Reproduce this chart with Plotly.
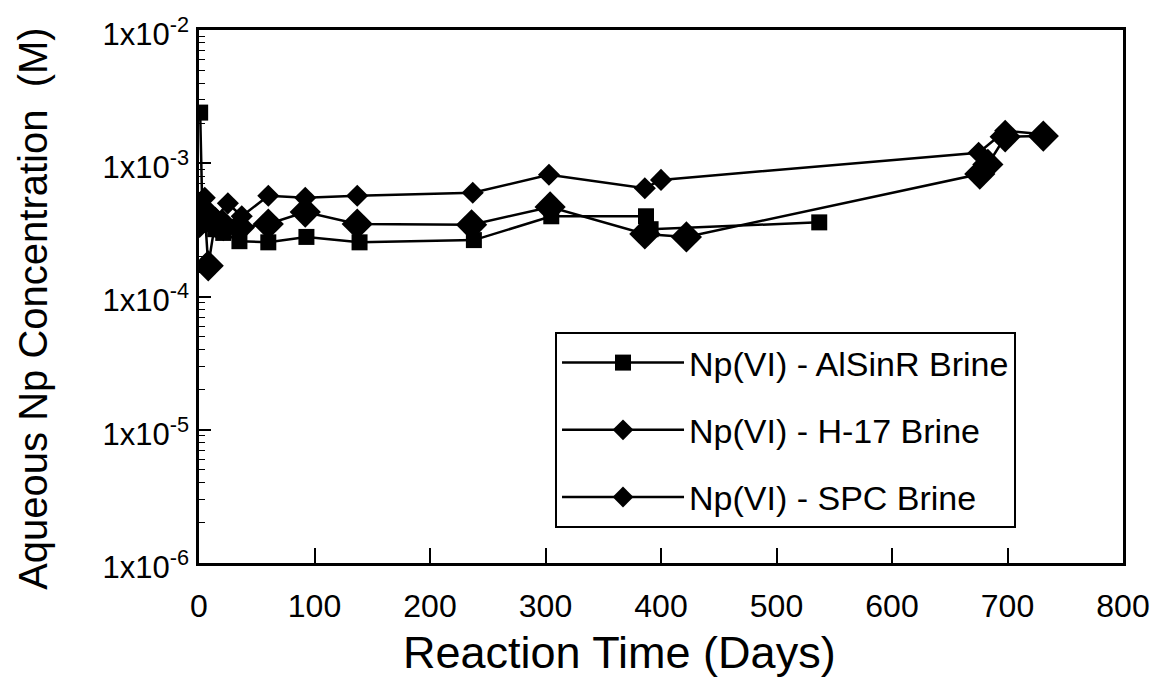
import plotly.graph_objects as go

# ---- data ----
alsinr_days = [1, 3, 7, 14, 21, 35, 60, 93, 139, 238, 305, 387, 391, 537]
alsinr_conc = [2.4e-3, 4.0e-4, 3.5e-4, 3.2e-4, 3.0e-4, 2.6e-4, 2.55e-4, 2.8e-4,
               2.55e-4, 2.65e-4, 4.0e-4, 4.0e-4, 3.2e-4, 3.6e-4]

h17_days = [2, 5, 10, 25, 37, 60, 92, 137, 237, 303, 386, 400, 675, 698, 731]
h17_conc = [4.5e-4, 5.5e-4, 3.5e-4, 5.0e-4, 4.0e-4, 5.7e-4, 5.5e-4, 5.7e-4,
            6.0e-4, 8.2e-4, 6.5e-4, 7.5e-4, 1.2e-3, 1.75e-3, 1.65e-3]

spc_days = [0.5, 5, 8, 14, 21, 35, 60, 92, 137, 236, 304, 386, 422, 676, 683, 698, 731]
spc_conc = [3.6e-4, 4.3e-4, 1.7e-4, 3.6e-4, 3.4e-4, 3.3e-4, 3.5e-4, 4.3e-4, 3.5e-4,
            3.45e-4, 4.7e-4, 2.95e-4, 2.8e-4, 8.3e-4, 9.8e-4, 1.58e-3, 1.6e-3]

series_names = ["Np(VI) - AlSinR Brine", "Np(VI) - H-17 Brine", "Np(VI) - SPC Brine"]

y_tick_vals = [1e-6, 1e-5, 1e-4, 1e-3, 1e-2]
y_tick_text = ["1x10<sup>-6</sup>", "1x10<sup>-5</sup>", "1x10<sup>-4</sup>",
               "1x10<sup>-3</sup>", "1x10<sup>-2</sup>"]
x_tick_vals = [0, 100, 200, 300, 400, 500, 600, 700, 800]

x_title = "Reaction Time (Days)"
y_title = "Aqueous Np Concentration  (M)"

FONT = "Liberation Sans, Arial, Helvetica, sans-serif"
NARROW = "Liberation Sans Narrow, Arial Narrow, Liberation Sans, sans-serif"

minor_vals = [m * 10.0 ** e for e in range(-6, -2) for m in range(2, 10)]

fig = go.Figure()
fig.add_trace(go.Scatter(
    x=alsinr_days, y=alsinr_conc, mode="lines+markers", name=series_names[0],
    legendgroup="a",
    line=dict(color="black", width=2.5),
    marker=dict(symbol="square", size=16, color="black")))
fig.add_trace(go.Scatter(
    x=h17_days, y=h17_conc, mode="lines+markers", name=series_names[1],
    legendgroup="b",
    line=dict(color="black", width=2.5),
    marker=dict(symbol="diamond", size=17, color="black")))
fig.add_trace(go.Scatter(
    x=spc_days, y=spc_conc, mode="lines+markers", name=series_names[2],
    legendgroup="c",
    line=dict(color="black", width=2.5),
    marker=dict(symbol="diamond", size=24, color="black")))

# the page body has an 8px default margin, so the figure is offset by (8, 8)
fig.update_layout(
    width=1166, height=679,
    margin=dict(l=191, r=51, t=22, b=124, autoexpand=False),
    paper_bgcolor="white", plot_bgcolor="white",
    font=dict(family=FONT, color="black"),
    showlegend=True,
    legend=dict(
        x=0.3853, y=0.4334, xanchor="left", yanchor="top",
        bgcolor="white", bordercolor="black", borderwidth=2,
        font=dict(size=34, family=FONT, color="black"),
        tracegroupgap=20, itemwidth=122,
    ),
    xaxis=dict(
        range=[0, 800], tickmode="array", tickvals=x_tick_vals,
        ticks="inside", ticklen=15, tickwidth=1.5, tickcolor="black",
        showline=True, linecolor="black", linewidth=2.5, mirror=True,
        showgrid=False, zeroline=False, automargin=False,
        tickfont=dict(size=32, family=NARROW, color="black"),
        ticklabelstandoff=13,
    ),
    yaxis=dict(
        type="log", range=[-6, -2], tickmode="array",
        tickvals=y_tick_vals, ticktext=y_tick_text,
        ticks="inside", ticklen=12, tickwidth=1.5, tickcolor="black",
        minor=dict(ticks="inside", ticklen=6, tickwidth=1, tickcolor="black",
                   tickmode="array", tickvals=minor_vals, showgrid=False),
        showline=True, linecolor="black", linewidth=2.5, mirror=True,
        showgrid=False, zeroline=False, automargin=False,
        tickfont=dict(size=31, family=FONT, color="black"),
        ticklabelstandoff=1, ticklabelshift=4,
    ),
    annotations=[
        dict(text=x_title, xref="paper", yref="paper", x=0.4556, y=-0.168,
             xanchor="center", yanchor="middle", showarrow=False,
             font=dict(size=45, family=FONT, color="black")),
        dict(text=y_title, xref="paper", yref="paper", x=-0.179, y=0.478,
             xanchor="center", yanchor="middle", showarrow=False, textangle=-90,
             font=dict(size=40, family=FONT, color="black")),
    ],
)

fig.write_html("out.html")
